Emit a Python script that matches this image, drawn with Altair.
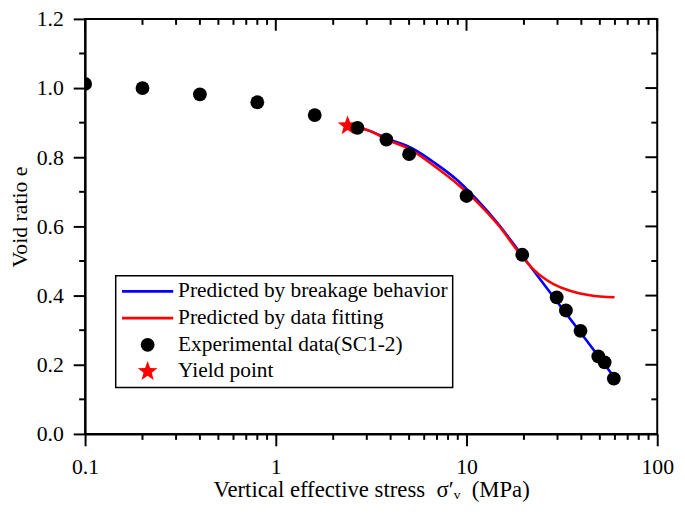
import math
import altair as alt
import pandas as pd

# ---------------- data ----------------
S_BLUE = "Predicted by breakage behavior"
S_RED = "Predicted by data fitting"
S_EXP = "Experimental data(SC1-2)"
S_YLD = "Yield point"
series_order = [S_BLUE, S_RED, S_EXP, S_YLD]

exp_stress = [0.1, 0.2, 0.4, 0.8, 1.6, 2.68, 3.8, 5.0, 10.0, 19.6, 29.7, 33.2, 39.6, 49.1, 53.0, 59.2]
exp_e = [1.012, 1.000, 0.982, 0.959, 0.922, 0.885, 0.851, 0.809, 0.688, 0.518, 0.395, 0.357, 0.298, 0.224, 0.207, 0.160]

yield_stress = [2.38]
yield_e = [0.891]

blue_stress = [2.38, 3.08, 3.91, 5.17, 6.83, 9.02, 11.44, 14.53, 19.57, 28.6, 40.9, 56.2, 59.7]
blue_e = [0.891, 0.877, 0.852, 0.826, 0.783, 0.732, 0.675, 0.610, 0.516, 0.396, 0.283, 0.182, 0.163]

red_stress = [2.38, 3.08, 3.91, 5.17, 6.83, 9.02, 11.44, 14.53, 19.57, 22.5, 28.6, 34.9, 44.3, 59.7]
red_e = [0.891, 0.877, 0.849, 0.820, 0.773, 0.721, 0.669, 0.607, 0.513, 0.475, 0.433, 0.414, 0.401, 0.395]

x_major = [0.1, 1, 10, 100]
x_minor = [0.2, 0.3, 0.4, 0.5, 0.6, 0.7, 0.8, 0.9,
           2, 3, 4, 5, 6, 7, 8, 9,
           20, 30, 40, 50, 60, 70, 80, 90]
y_major = [0.0, 0.2, 0.4, 0.6, 0.8, 1.0, 1.2]
y_minor = [0.1, 0.3, 0.5, 0.7, 0.9, 1.1]

# ---------------- styling ----------------
W, H = 579, 420
FONT = "Liberation Serif"


def star_path(r_out=1.5, r_in=0.62):
    pts = []
    for k in range(10):
        r = r_out if k % 2 == 0 else r_in
        a = math.radians(-90 + 36 * k)
        pts.append(f"{r * math.cos(a):.3f},{r * math.sin(a):.3f}")
    return "M" + "L".join(pts) + "Z"


LINE_SYM = "M-3.7,-0.19L3.7,-0.19L3.7,0.19L-3.7,0.19Z"   # filled bar = line sample in legend
shape_scale = alt.Scale(domain=series_order, range=[LINE_SYM, LINE_SYM, "circle", star_path()])
fill_scale = alt.Scale(domain=series_order, range=["#0000ff", "#ff0000", "#000000", "#ff0000"])
stroke_scale = alt.Scale(domain=series_order, range=["#0000ff", "#ff0000", "#000000", "#ff0000"])

xscale = alt.Scale(type="log", domain=[0.1, 100], nice=False)
yscale = alt.Scale(domain=[0, 1.2], nice=False, zero=False)

xaxis = alt.Axis(values=x_major, format="~g",
                 title="Vertical effective stress\u2002σ′ᵥ\u2002(MPa)",
                 titleFontSize=23,
                 labelFlush=False, labelPadding=11, titlePadding=1)
yaxis = alt.Axis(values=y_major, format=".1f", title="Void ratio e",
                 labelFlush=False, labelPadding=10, titlePadding=5, titleY=H / 2 - 10)

leg = alt.Legend(title=None)

# ---------------- tables ----------------
blue_df = pd.DataFrame({"stress": blue_stress, "e": blue_e, "series": S_BLUE})
red_df = pd.DataFrame({"stress": red_stress, "e": red_e, "series": S_RED})
pts_df = pd.concat([
    pd.DataFrame({"stress": yield_stress, "e": yield_e, "series": S_YLD}),
    pd.DataFrame({"stress": exp_stress, "e": exp_e, "series": S_EXP}),
], ignore_index=True)

X = alt.X("stress:Q", scale=xscale, axis=xaxis)
Y = alt.Y("e:Q", scale=yscale, axis=yaxis)


def line_layer(df):
    return alt.Chart(df).mark_line(strokeWidth=2.6, interpolate="monotone").encode(
        x=X, y=Y,
        stroke=alt.Stroke("series:N", scale=stroke_scale, legend=leg),
    )


blue_line = line_layer(blue_df)
red_line = line_layer(red_df)

points = alt.Chart(pts_df).mark_point(filled=True, opacity=1, clip=True, size=196).encode(
    x=X, y=Y,
    fill=alt.Fill("series:N", scale=fill_scale, legend=leg),
    shape=alt.Shape("series:N", scale=shape_scale, legend=leg),
)

# ---------------- extra ticks (minor ticks, mirrored top / right ticks) ----------------
tick_style = dict(color="black", strokeWidth=2)


def xticks(vals, y0, y1):
    return alt.Chart(pd.DataFrame({"stress": vals})).mark_rule(**tick_style).encode(
        x=X, y=alt.value(y0), y2=alt.value(y1))


def yticks(vals, x0, x1):
    return alt.Chart(pd.DataFrame({"e": vals})).mark_rule(**tick_style).encode(
        y=Y, x=alt.value(x0), x2=alt.value(x1))


ticks = [
    xticks(x_minor, H, H + 6),       # bottom minor (outward)
    xticks(x_major, 0, 12),          # top major (inward)
    xticks(x_minor, 0, 6),           # top minor (inward)
    yticks(y_minor, 0, -6),          # left minor (outward)
    yticks(y_major, W, W - 12),      # right major (inward)
    yticks(y_minor, W, W - 6),       # right minor (inward)
]

chart = alt.layer(blue_line, red_line, *ticks, points).properties(
    width=W, height=H,
    autosize=alt.AutoSizeParams(type="none"),
    padding={"left": 78, "top": 8, "right": 20, "bottom": 78},
).configure(
    font=FONT,
    background="white",
).configure_view(
    stroke="black", strokeWidth=2,
).configure_axis(
    grid=False,
    domainColor="black", domainWidth=2,
    tickColor="black", tickWidth=2, tickSize=12,
    labelFont=FONT, labelFontSize=22, labelColor="black",
    titleFont=FONT, titleFontSize=22, titleColor="black", titleFontWeight="normal",
).configure_legend(
    orient="none", legendX=31, legendY=260,
    strokeColor="black", strokeWidth=1.5, fillColor="white",
    padding=5, rowPadding=4,
    labelFont=FONT, labelFontSize=21.6, labelColor="black", labelLimit=500,
    symbolSize=196, symbolStrokeWidth=0, symbolOffset=16.5, labelOffset=20,
)

chart.save("out.html", embed_options={"renderer": "svg", "actions": False})
